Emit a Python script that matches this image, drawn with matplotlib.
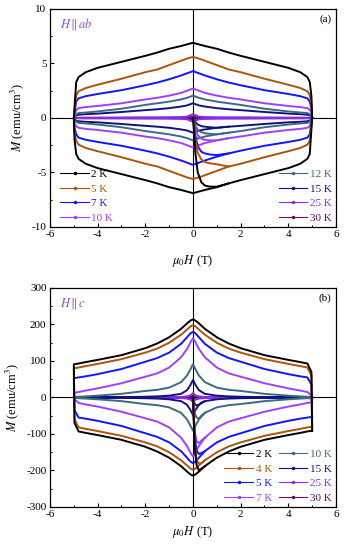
import numpy as np
import matplotlib
matplotlib.use('agg')
import matplotlib.pyplot as plt
from matplotlib.lines import Line2D
from matplotlib.ticker import MultipleLocator

plt.rcParams['font.family'] = 'Liberation Serif'
plt.rcParams['mathtext.fontset'] = 'stix'
plt.rcParams['axes.unicode_minus'] = False

# ---------------------------------------------------------------- data
# upper (decreasing field) branch, read at |H| ; lower branch = point reflection

# (a)  H || ab
temps_a = ['2 K', '5 K', '7 K', '10 K', '12 K', '15 K', '25 K', '30 K']
habs_a  = [0, 0.25, 0.5, 1, 1.5, 2, 3, 4, 4.5, 4.8, 4.9]
up_a = [
    [6.9, 6.75, 6.6, 6.35, 6.0, 5.7, 5.15, 4.6, 4.2, 3.75, 3.3],
    [5.6, 5.45, 5.25, 4.85, 4.45, 4.2, 3.6, 3.05, 2.75, 2.45, 2.1],
    [4.3, 4.1, 3.9, 3.55, 3.25, 3.0, 2.55, 2.2, 2.0, 1.8, 1.5],
    [2.7, 2.5, 2.3, 2.05, 1.85, 1.7, 1.35, 1.1, 1.0, 0.9, 0.75],
    [2.05, 1.85, 1.7, 1.5, 1.35, 1.2, 0.85, 0.6, 0.5, 0.45, 0.35],
    [1.35, 1.15, 1.05, 0.9, 0.8, 0.72, 0.55, 0.4, 0.35, 0.3, 0.25],
    [0.35, 0.12, 0.08, 0.06, 0.05, 0.05, 0.04, 0.03, 0.03, 0.02, 0.02],
    [0.12, 0.05, 0.03, 0.02, 0.02, 0.02, 0.01, 0.01, 0.01, 0.01, 0.0],
]
turn_a = [2.0, 1.3, 0.9, 0.5, 0.25, 0.15, 0.01, 0.0]      # M at H=4.97 on return
end_a  = [0, 0, 0, 0, 0, 0, 0, 0]                          # M at H=-5 (upper end)
hv_a = [0, 0.05, 0.1, 0.2, 0.35, 0.5, 0.7, 1.0, 1.5]
virgin_a = [
    [0, -1.5, -3.2, -5.0, -5.9, -6.2, -6.3, -6.3, -6.0],
    [0, -1.0, -2.0, -3.2, -3.8, -4.05, -4.15, -4.25, -4.45],
    [0, -0.8, -1.6, -2.6, -3.1, -3.25, -3.35, -3.4, -3.25],
    [0, -0.5, -1.0, -1.6, -1.9, -2.0, -2.05, -2.05, -1.85],
    [0, -0.35, -0.7, -1.1, -1.3, -1.4, -1.45, -1.5, -1.35],
    [0, -0.2, -0.4, -0.6, -0.75, -0.8, -0.85, -0.9, -0.8],
]

# (b)  H || c
temps_b = ['2 K', '4 K', '5 K', '7 K', '10 K', '15 K', '25 K', '30 K']
habs_b  = [0, 0.1, 0.25, 0.5, 1, 1.5, 2, 3, 4, 4.5, 4.8]
up_b = [
    [214, 211, 203, 188, 165, 148, 135, 116, 103, 97, 93],
    [198, 195, 186, 172, 150, 134, 123, 105, 92, 86, 82],
    [180, 176, 165, 147, 123, 108, 98, 78, 64, 58, 55],
    [162, 152, 133, 110, 82, 66, 57, 39, 25, 19, 15],
    [91, 78, 60, 42, 27, 21, 18, 10, 5, 3, 2],
    [48, 35, 20, 10, 5, 3, 2, 1, 0.5, 0.3, 0.2],
    [12, 6, 3, 1.5, 1, 0.5, 0.3, 0.2, 0.1, 0.1, 0.1],
    [5, 2, 1, 0.5, 0.2, 0.1, 0.1, 0, 0, 0, 0],
]
turn_b = [70, 60, 35, 5, 0, 0, 0, 0]
end_b  = [91, 80, 53, 13, 2, 0, 0, 0]
hv_b = [0, 0.03, 0.08, 0.15, 0.25, 0.35, 0.5]
virgin_b = [
    [0, -60, -140, -185, -200, -195, -188],
    [0, -55, -125, -170, -182, -180, -172],
    [0, -50, -110, -145, -155, -152, -147],
    [0, -45, -95, -120, -125, -118, -110],
    [0, -20, -45, -55, -58, -50, -42],
    [0, -10, -18, -22, -20, -14, -10],
]

colors = ['#000000', '#b0520a', '#1414ff', '#a040ff',
          '#3c6a7e', '#12127e', '#8a2be8', '#6a0a6a']


def loop(habs, up, turn, end):
    """ full hysteresis loop: sweep 5 -> -5 then -5 -> 5 """
    h = np.array(habs, float)
    p = np.array(up, float)
    hu = np.concatenate([[5.0, 4.97], h[::-1], -h[1:], [-5.0]])
    mu = np.concatenate([[-end, turn], p[::-1], p[1:], [end]])
    return np.concatenate([hu, -hu]), np.concatenate([mu, -mu])


def panel(ax, temps, habs, up, turn, end, hv, virgin, xpad):
    for i in reversed(range(len(temps))):
        h, m = loop(habs, up[i], turn[i], end[i])
        ax.plot(h, m, color=colors[i], lw=1.4, zorder=3 + len(temps) - i)
        if i < len(virgin):
            ax.plot(hv, virgin[i], color=colors[i], lw=1.4, zorder=3 + len(temps) - i)
    ax.axhline(0, color='k', lw=0.8, zorder=2)
    ax.axvline(0, color='k', lw=0.8, zorder=2)
    ax.set_xlim(-6, 6)
    ax.xaxis.set_major_locator(MultipleLocator(2))
    ax.xaxis.set_minor_locator(MultipleLocator(1))
    ax.tick_params(which='both', direction='in', labelsize=8, pad=2.5, width=0.8)
    ax.tick_params(which='major', length=3)
    ax.tick_params(which='minor', length=1.5)
    ax.set_xlabel(r'$\mu_0H$ (T)', fontsize=9, labelpad=xpad)
    ax.set_ylabel(r'$M$ (emu/cm$^3$)', fontsize=9, labelpad=4)
    for s in ax.spines.values():
        s.set_linewidth(0.9)


def handles(idx, temps):
    return [Line2D([], [], color=colors[i], lw=0.8, marker='.', markersize=3,
                   label=temps[i]) for i in idx]


def add_legend(ax, idx, temps, ncol, loc, anchor):
    leg = ax.legend(handles=handles(idx, temps), ncol=ncol, loc=loc,
                    bbox_to_anchor=anchor, frameon=False, fontsize=8,
                    handlelength=2.6, handletextpad=0.2, labelspacing=0.42,
                    columnspacing=0.6, borderaxespad=0.0)
    for t, i in zip(leg.get_texts(), idx):
        t.set_color(colors[i])
    return leg


fig = plt.figure(figsize=(3.44, 5.5), dpi=100)
ax1 = fig.add_axes([0.1453, 0.5873, 0.8314, 0.3964])
ax2 = fig.add_axes([0.1453, 0.0782, 0.8314, 0.3982])

# (a)
panel(ax1, temps_a, habs_a, up_a, turn_a, end_a, hv_a, virgin_a, 10)
ax1.set_ylim(-10, 10)
ax1.yaxis.set_major_locator(MultipleLocator(5))
ax1.yaxis.set_minor_locator(MultipleLocator(2.5))
l1 = add_legend(ax1, [0, 1, 2, 3], temps_a, 1, 'lower left', (0.02, 0.0))
ax1.add_artist(l1)
add_legend(ax1, [4, 5, 6, 7], temps_a, 1, 'lower right', (1.0, 0.0))
ax1.text(0.035, 0.93, r'$H\,\|\,ab$', transform=ax1.transAxes, color='#8a4ee0',
         fontsize=9, va='center')
ax1.text(0.985, 0.955, '(a)', transform=ax1.transAxes, fontsize=8,
         ha='right', va='center')

# (b)
panel(ax2, temps_b, habs_b, up_b, turn_b, end_b, hv_b, virgin_b, 3)
ax2.set_ylim(-300, 300)
ax2.yaxis.set_major_locator(MultipleLocator(100))
ax2.yaxis.set_minor_locator(MultipleLocator(50))
add_legend(ax2, list(range(8)), temps_b, 2, 'lower right', (1.0, 0.0))
ax2.text(0.035, 0.93, r'$H\,\|\,c$', transform=ax2.transAxes, color='#8a4ee0',
         fontsize=9, va='center')
ax2.text(0.985, 0.955, '(b)', transform=ax2.transAxes, fontsize=8,
         ha='right', va='center')

fig.savefig('out.png', dpi=100)
